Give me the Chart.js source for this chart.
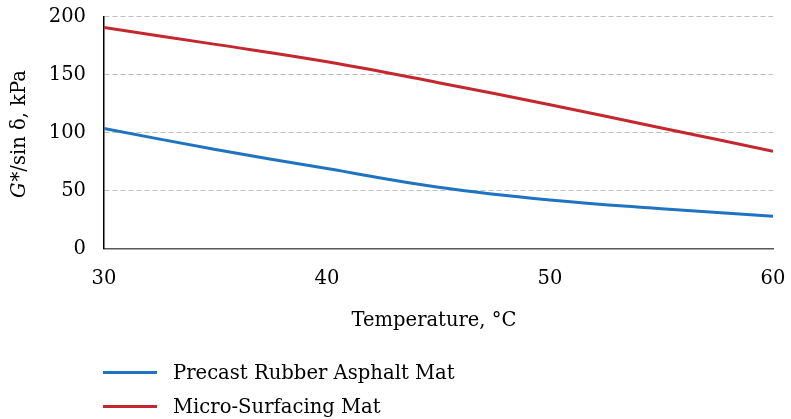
<!DOCTYPE html>
<html>
<head>
<meta charset="utf-8">
<script src="https://cdn.jsdelivr.net/npm/chart.js@4"></script>
<style>
  html, body { margin: 0; padding: 0; background: #fff; overflow: hidden; }
  #wrap { position: relative; width: 791px; height: 419px; }
  #legend { position: absolute; left: 103px; top: 355px; font-family: "DejaVu Serif", serif; font-size: 19.6px; color: #000; }
  .item { display: flex; align-items: center; height: 34px; }
  .swatch { width: 54px; height: 3px; margin-right: 16px; }
</style>
</head>
<body>
<div id="wrap">
  <canvas id="c" width="791" height="419"></canvas>
  <div id="legend"></div>
</div>
<script>
const temperatures = [30, 35, 40, 45, 50, 55, 60];
const precastRubber = [103.5, 85.5, 69, 53, 42, 34.5, 28];
const microSurfacing = [190.5, 176, 161, 143, 124, 104, 84];
const seriesNames = ['Precast Rubber Asphalt Mat', 'Micro-Surfacing Mat'];
const seriesColors = ['#1f74c1', '#c4272e'];
const xTicks = [30, 40, 50, 60];
const yTicks = [0, 50, 100, 150, 200];
const xTitle = 'Temperature, °C';

const FONT = '"DejaVu Serif", serif';
const FS = 19.5;

const titlesPlugin = {
  id: 'axisTitles',
  afterDraw(chart) {
    const ctx = chart.ctx;
    const ca = chart.chartArea;
    ctx.save();
    ctx.fillStyle = '#000';
    ctx.textBaseline = 'middle';
    // x title
    ctx.font = FS + 'px ' + FONT;
    ctx.textAlign = 'center';
    ctx.fillText(xTitle, (ca.left + ca.right) / 2 - 4.5, 321);
    // y title (G italic)
    ctx.translate(20, (ca.top + ca.bottom) / 2 + 2);
    ctx.rotate(-Math.PI / 2);
    const p1 = 'G', p2 = '*/sin δ, kPa';
    ctx.font = 'italic ' + FS + 'px ' + FONT;
    const w1 = ctx.measureText(p1).width;
    ctx.font = FS + 'px ' + FONT;
    const w2 = ctx.measureText(p2).width;
    const start = -(w1 + w2) / 2;
    ctx.textAlign = 'left';
    ctx.font = 'italic ' + FS + 'px ' + FONT;
    ctx.fillText(p1, start, 0);
    ctx.font = FS + 'px ' + FONT;
    ctx.fillText(p2, start + w1 + 1, 0);
    ctx.restore();
  }
};

const datasets = [precastRubber, microSurfacing].map((vals, i) => ({
  label: seriesNames[i],
  data: temperatures.map((t, j) => ({ x: t, y: vals[j] })),
  borderColor: seriesColors[i],
  backgroundColor: seriesColors[i],
  borderWidth: 3,
  pointRadius: 0,
  tension: 0.4,
  fill: false
}));

new Chart(document.getElementById('c'), {
  type: 'line',
  data: { datasets },
  options: {
    responsive: false,
    animation: false,
    events: [],
    layout: { padding: { left: 0, right: 18, top: 16.5, bottom: 86.6 } },
    plugins: { legend: { display: false }, tooltip: { enabled: false } },
    scales: {
      x: {
        type: 'linear',
        min: 30, max: 60,
        afterBuildTicks: (s) => { s.ticks = xTicks.map(v => ({ value: v })); },
        afterFit: (s) => { s.height = 83.7; s.paddingLeft = 0; s.paddingRight = 0; },
        grid: { display: false, drawTicks: false },
        border: { display: true, color: '#595959', width: 1.5 },
        ticks: { padding: 19, color: '#000', font: { family: FONT, size: FS } },
        title: { display: false, text: xTitle }
      },
      y: {
        min: 0, max: 200,
        afterBuildTicks: (s) => { s.ticks = yTicks.map(v => ({ value: v })); },
        afterFit: (s) => { s.width = 104; s.paddingTop = 0; s.paddingBottom = 0; },
        grid: { display: true, drawTicks: false, color: '#bfbfbf', lineWidth: 1 },
        border: { display: true, color: '#000', width: 1.5, dash: [5, 3] },
        ticks: { padding: 18, color: '#000', font: { family: FONT, size: FS } }
      }
    }
  },
  plugins: [titlesPlugin]
});

const legend = document.getElementById('legend');
seriesNames.forEach((name, i) => {
  const row = document.createElement('div');
  row.className = 'item';
  const sw = document.createElement('span');
  sw.className = 'swatch';
  sw.style.background = seriesColors[i];
  const tx = document.createElement('span');
  tx.textContent = name;
  row.appendChild(sw);
  row.appendChild(tx);
  legend.appendChild(row);
});
</script>
</body>
</html>
